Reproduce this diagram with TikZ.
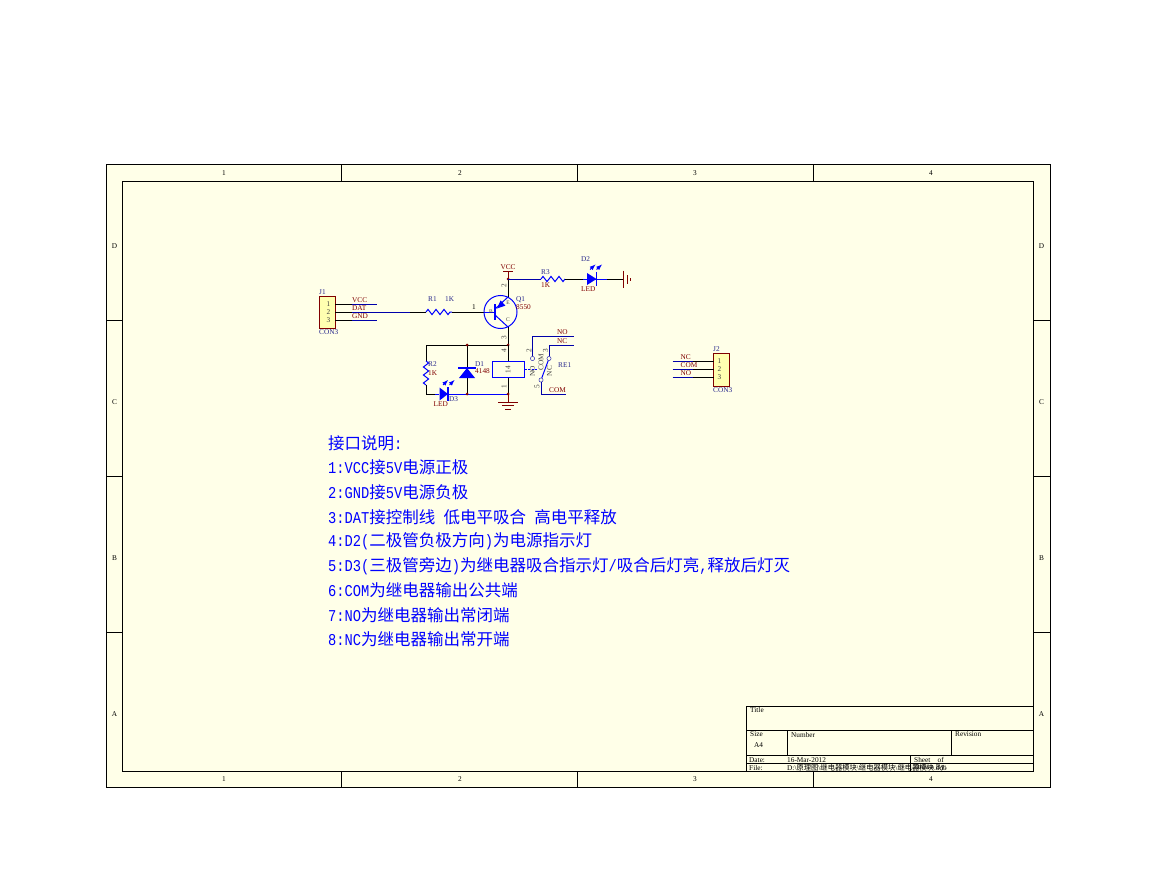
\documentclass[tikz,border=0pt]{standalone}
\usepackage{fontspec}
\setmainfont{Liberation Serif}
\newfontfamily\cjk{Noto Sans CJK SC}
\newfontfamily\latn[FakeStretch=0.833]{Liberation Mono}
\newcommand{\hz}[1]{{\cjk #1}}
\usetikzlibrary{decorations.pathmorphing}
\definecolor{sheetbg}{RGB}{255,255,232}
\definecolor{bodybg}{RGB}{255,255,176}
\definecolor{partblue}{RGB}{0,0,255}
\definecolor{wireblue}{RGB}{0,0,170}
\definecolor{netred}{RGB}{128,0,0}
\definecolor{refblue}{RGB}{40,40,140}
\tikzset{
  lbl/.style={inner sep=0pt, anchor=west, font=\fontsize{7.3}{8}\selectfont},
  net/.style={lbl, text=netred},
  ref/.style={lbl, text=refblue},
  pinno/.style={lbl, anchor=center, text=black!75},
  zone/.style={lbl, anchor=center},
  note/.style={inner sep=0pt, anchor=west, text=partblue, font=\fontsize{16.5}{18}\selectfont\latn},
  frame/.style={black, line width=1pt},
  pin/.style={black, line width=1pt},
  wire/.style={wireblue, line width=1pt},
  part/.style={partblue, line width=1pt},
  res/.style={part, decorate, decoration={zigzag, segment length=8pt, amplitude=2.6pt}},
  dot/.style={circle, fill=netred, inner sep=0pt, minimum size=3pt},
  power/.style={netred, line width=1pt},
  conn/.style={draw=netred, fill=bodybg, line width=1pt}
}
\begin{document}
\begin{tikzpicture}[x=1pt, y=-1pt]
\useasboundingbox (0,0) rectangle (1155,893);

% Sheet frame
\draw[frame, fill=sheetbg] (106.5,164.5) rectangle (1050.5,787.5);
\draw[frame] (122.5,181.5) rectangle (1033.5,771.5);
\foreach \x in {341.5,577.5,813.5} {
  \draw[frame] (\x,164.5) -- (\x,181.5);
  \draw[frame] (\x,771.5) -- (\x,787.5);
}
\foreach \y in {320.5,476.5,632.5} {
  \draw[frame] (106.5,\y) -- (122.5,\y);
  \draw[frame] (1033.5,\y) -- (1050.5,\y);
}
\foreach \x/\n in {224/1,460/2,695/3,931/4} {
  \node[zone] (top\n) at (\x,173) {\n};
  \node[zone] (bot\n) at (\x,779.5) {\n};
}
\foreach \y/\n in {246/D,402/C,558/B,714/A} {
  \node[zone] (left\n) at (114.5,\y) {\n};
  \node[zone] (right\n) at (1041.5,\y) {\n};
}

% Title block
\draw[frame] (746.5,771.5) -- (746.5,706.5) -- (1033.5,706.5);
\draw[frame] (746.5,730.5) -- (1033.5,730.5);
\draw[frame] (746.5,755.5) -- (1033.5,755.5);
\draw[frame] (746.5,763.5) -- (1033.5,763.5);
\draw[frame] (787.5,730.5) -- (787.5,755.5);
\draw[frame] (951.5,730.5) -- (951.5,755.5);
\draw[frame] (910.5,755.5) -- (910.5,771.5);
\node[lbl] (ttitle) at (750,710) {Title};
\node[lbl] (tsize) at (750,734.5) {Size};
\node[lbl] (tnumber) at (791,734.5) {Number};
\node[lbl] (trev) at (955,734.5) {Revision};
\node[lbl] (tafour) at (754,745.5) {A4};
\node[lbl] (tdate) at (749,760) {Date:};
\node[lbl] (tdateval) at (787,760) {16-Mar-2012};
\node[lbl] (tsheet) at (914,760) {Sheet\quad of};
\node[lbl] (tfile) at (749,768) {File:};
\node[lbl] (tfileval) at (787,768) {D:\textbackslash{\cjk 原理图}\textbackslash{\cjk 继电器模块}\textbackslash{\cjk 继电器模块}\textbackslash{\cjk 继电器模块}.ddb};
\node[lbl] (tdrawn) at (914,768) {Drawn By:};

% J1
\coordinate (jonea) at (335,304);
\coordinate (joneb) at (335,312);
\coordinate (jonec) at (335,320);
\coordinate (jvcc) at (377,304);
\coordinate (jgnd) at (377,320);
\coordinate (ronea) at (426,312);
\coordinate (roneb) at (452,312);
\coordinate (qb) at (495,312);
\draw[conn] (319.5,296.5) rectangle (335,328);
\draw[pin] (jonea) -- (352,304);
\draw[wire] (352,304) -- (jvcc);
\draw[pin] (joneb) -- (352,312);
\draw[wire] (352,312) -- (410,312);
\draw[pin] (410,312) -- (ronea);
\draw[pin] (jonec) -- (352,320);
\draw[wire] (352,320) -- (jgnd);
\node[pinno] (jonen) at (328.5,304) {1};
\node[pinno] (jonem) at (328.5,312) {2};
\node[pinno] (jonel) at (328.5,320) {3};
\node[ref] (jone) at (319,292) {J1};
\node[ref] (jonev) at (319,332) {CON3};
\node[net] (nvcc) at (352,300) {VCC};
\node[net] (ndat) at (352,308) {DAT};
\node[net] (ngnd) at (352,316) {GND};

% R1 and Q1
\draw[res] (ronea) -- (roneb);
\node[ref] (rone) at (428,299.5) {R1};
\node[ref] (ronev) at (445,299.5) {1K};
\draw[pin] (roneb) -- (484,312);
\draw[part] (484,312) -- (qb);
\node[lbl] (qbase) at (472,307.5) {1};
\coordinate (qc) at (500.5,312);
\draw[part] (qc) circle (16.5);
\draw[part, line width=1.8pt] (495,304) -- (495,320);
\coordinate (qe) at (508,297);
\coordinate (qk) at (508,327);
\draw[part] (495,309) -- (qe);
\draw[part] (495,315) -- (qk);
\fill[part] (497,308.5) -- (505.4,305.6) -- (500.6,300.4) -- cycle;
\node[pinno, font=\fontsize{5.5}{6}\selectfont] (qlb) at (491,312) {B};
\node[pinno, font=\fontsize{5.5}{6}\selectfont] (qle) at (508,303) {E};
\node[pinno, font=\fontsize{5.5}{6}\selectfont] (qlc) at (508,320) {C};
\node[ref] (qone) at (516,299.5) {Q1};
\node[net] (qonev) at (516,307.5) {8550};

% VCC rail
\coordinate (vcc) at (508,279);
\draw[power] (503,271) -- (512.5,271);
\draw[power] (508,271) -- (vcc);
\node[net, anchor=center] (vcclbl) at (508,267) {VCC};
\draw[pin] (vcc) -- (qe);
\node[dot] (vccdot) at (vcc) {};
\node[pinno, rotate=90] (qptwo) at (504,286) {2};
\node[pinno, rotate=90] (qpthree) at (504,338) {3};

% R3, D2 and ground
\coordinate (rthreea) at (541,279);
\coordinate (rthreeb) at (565,279);
\draw[wire] (vcc) -- (rthreea);
\draw[res] (rthreea) -- (rthreeb);
\draw[pin] (rthreeb) -- (583,279);
\draw[part] (583,279) -- (607,279);
\draw[pin] (607,279) -- (623.5,279);
\fill[part] (587,273) -- (596.5,279) -- (587,285) -- cycle;
\draw[part, line width=1.5pt] (596.5,272) -- (596.5,286);
\draw[part, -latex] (590,269.5) -- (595.5,264.5);
\draw[part, -latex] (596.5,269.5) -- (602,264.5);
\draw[power] (623.5,270.5) -- (623.5,288);
\draw[power] (627.3,275) -- (627.3,284);
\draw[power] (630.3,278) -- (630.3,281);
\node[ref] (dtwo) at (581,259.5) {D2};
\node[net] (dtwov) at (581,289.5) {LED};
\node[ref] (rthree) at (541,272.5) {R3};
\node[net] (rthreev) at (541,285.5) {1K};

% Relay coil net
\coordinate (top) at (508,345);
\coordinate (topd) at (467,345);
\coordinate (topr) at (426,345);
\coordinate (bot) at (508,394);
\coordinate (botd) at (467,394);
\coordinate (botr) at (426,394);
\draw[pin] (qk) -- (top);
\draw[pin] (top) -- (topr) -- (426,361);
\draw[res] (426,361) -- (426,385);
\draw[pin] (426,385) -- (botr) -- (435,394);
\draw[part] (435,394) -- (439,394);
\draw[part] (448,394) -- (bot);
\fill[part] (439.5,387.5) -- (448,394) -- (439.5,400.5) -- cycle;
\draw[part, line width=1.5pt] (448,387) -- (448,401);
\draw[part, -latex] (443,385) -- (448,380);
\draw[part, -latex] (449.5,385) -- (454.5,380);
\node[ref] (rtwo) at (428,364.5) {R2};
\node[net] (rtwov) at (428,373) {1K};
\node[net] (dthreev) at (433.5,404.5) {LED};
\node[ref] (dthree) at (449,399) {D3};

% D1
\draw[pin] (topd) -- (467,368);
\draw[pin] (467,378) -- (botd);
\fill[part] (467,368) -- (475,378) -- (459,378) -- cycle;
\draw[part, line width=1.5pt] (458,368) -- (476,368);
\node[ref] (done) at (475,364) {D1};
\node[net] (donev) at (475,371.5) {4148};
\node[dot] (topddot) at (topd) {};
\node[dot] (botddot) at (botd) {};
\node[dot] (topdot) at (top) {};

% Relay RE1
\draw[pin] (top) -- (508,362);
\draw[pin] (508,377) -- (bot);
\draw[part, fill=sheetbg] (492,361.5) rectangle (524.5,377.5);
\node[pinno, rotate=90] (coil) at (508,369.5) {14};
\node[pinno, rotate=90] (cfour) at (504,351) {4};
\node[pinno, rotate=90] (cone) at (504,387) {1};
\node[dot] (botdot) at (bot) {};
\draw[power] (bot) -- (508,402);
\draw[power] (498,402) -- (517.5,402);
\draw[power] (502,405.5) -- (513.5,405.5);
\draw[power] (505,409) -- (510.5,409);
\draw[part, dashed, dash pattern=on 2pt off 1.5pt] (524.5,369) -- (537,369);
\node[draw=wireblue, circle, inner sep=0pt, minimum size=4.2pt, fill=sheetbg] (cno) at (532.5,358.5) {};
\node[draw=wireblue, circle, inner sep=0pt, minimum size=4.2pt, fill=sheetbg] (cnc) at (549,358.5) {};
\node[draw=wireblue, circle, inner sep=0pt, minimum size=4.2pt, fill=sheetbg] (ccom) at (541,380) {};
\draw[part] (ccom) -- (cnc);
\coordinate (nowire) at (532.5,336.5);
\coordinate (ncwire) at (549,345.5);
\coordinate (comwire) at (541,394.5);
\draw[wire] (cno) -- (nowire) -- (574,336.5);
\draw[wire] (cnc) -- (ncwire) -- (574,345.5);
\draw[wire] (ccom) -- (comwire) -- (566,394.5);
\node[net] (nno) at (557,332) {NO};
\node[net] (nnc) at (557,341) {NC};
\node[net] (ncom) at (549,390) {COM};
\node[ref] (reone) at (558,365) {RE1};
\node[pinno, rotate=90] (ptwo) at (529,351) {2};
\node[pinno, rotate=90] (pthree) at (545.5,351) {3};
\node[pinno, rotate=90] (pfive) at (537,387) {5};
\node[pinno, rotate=90] (lno) at (532.5,371) {NO};
\node[pinno, rotate=90] (lcom) at (541,362.5) {COM};
\node[pinno, rotate=90] (lnc) at (549.5,371) {NC};

% J2
\draw[conn] (713.5,353.5) rectangle (729.5,386);
\foreach \y/\n in {361.5/1,369.5/2,377.5/3} {
  \draw[wire] (672.5,\y) -- (693,\y);
  \draw[pin] (693,\y) -- (713.5,\y);
  \node[pinno] (jtwo\n) at (719.5,\y) {\n};
}
\node[net] (nnctwo) at (680.5,357) {NC};
\node[net] (ncomtwo) at (680.5,365) {COM};
\node[net] (nnotwo) at (680.5,373) {NO};
\node[ref] (jtwo) at (713,349) {J2};
\node[ref] (jtwov) at (713,390) {CON3};

% Notes
\node[note] (lnzero) at (328,443) {\hz{接口说明}:};
\node[note] (lnone) at (328,467.5) {1:VCC\hz{接}5V\hz{电源正极}};
\node[note] (lntwo) at (328,492) {2:GND\hz{接}5V\hz{电源负极}};
\node[note] (lnthree) at (328,517) {3:DAT\hz{接控制线} \hz{低电平吸合} \hz{高电平释放}};
\node[note] (lnfour) at (328,541.5) {4:D2(\hz{二极管负极方向})\hz{为电源指示灯}};
\node[note] (lnfive) at (328,566) {5:D3(\hz{三极管旁边})\hz{为继电器吸合指示灯}/\hz{吸合后灯亮},\hz{释放后灯灭}};
\node[note] (lnsix) at (328,590.5) {6:COM\hz{为继电器输出公共端}};
\node[note] (lnseven) at (328,615) {7:NO\hz{为继电器输出常闭端}};
\node[note] (lneight) at (328,639.5) {8:NC\hz{为继电器输出常开端}};
\end{tikzpicture}
\end{document}
